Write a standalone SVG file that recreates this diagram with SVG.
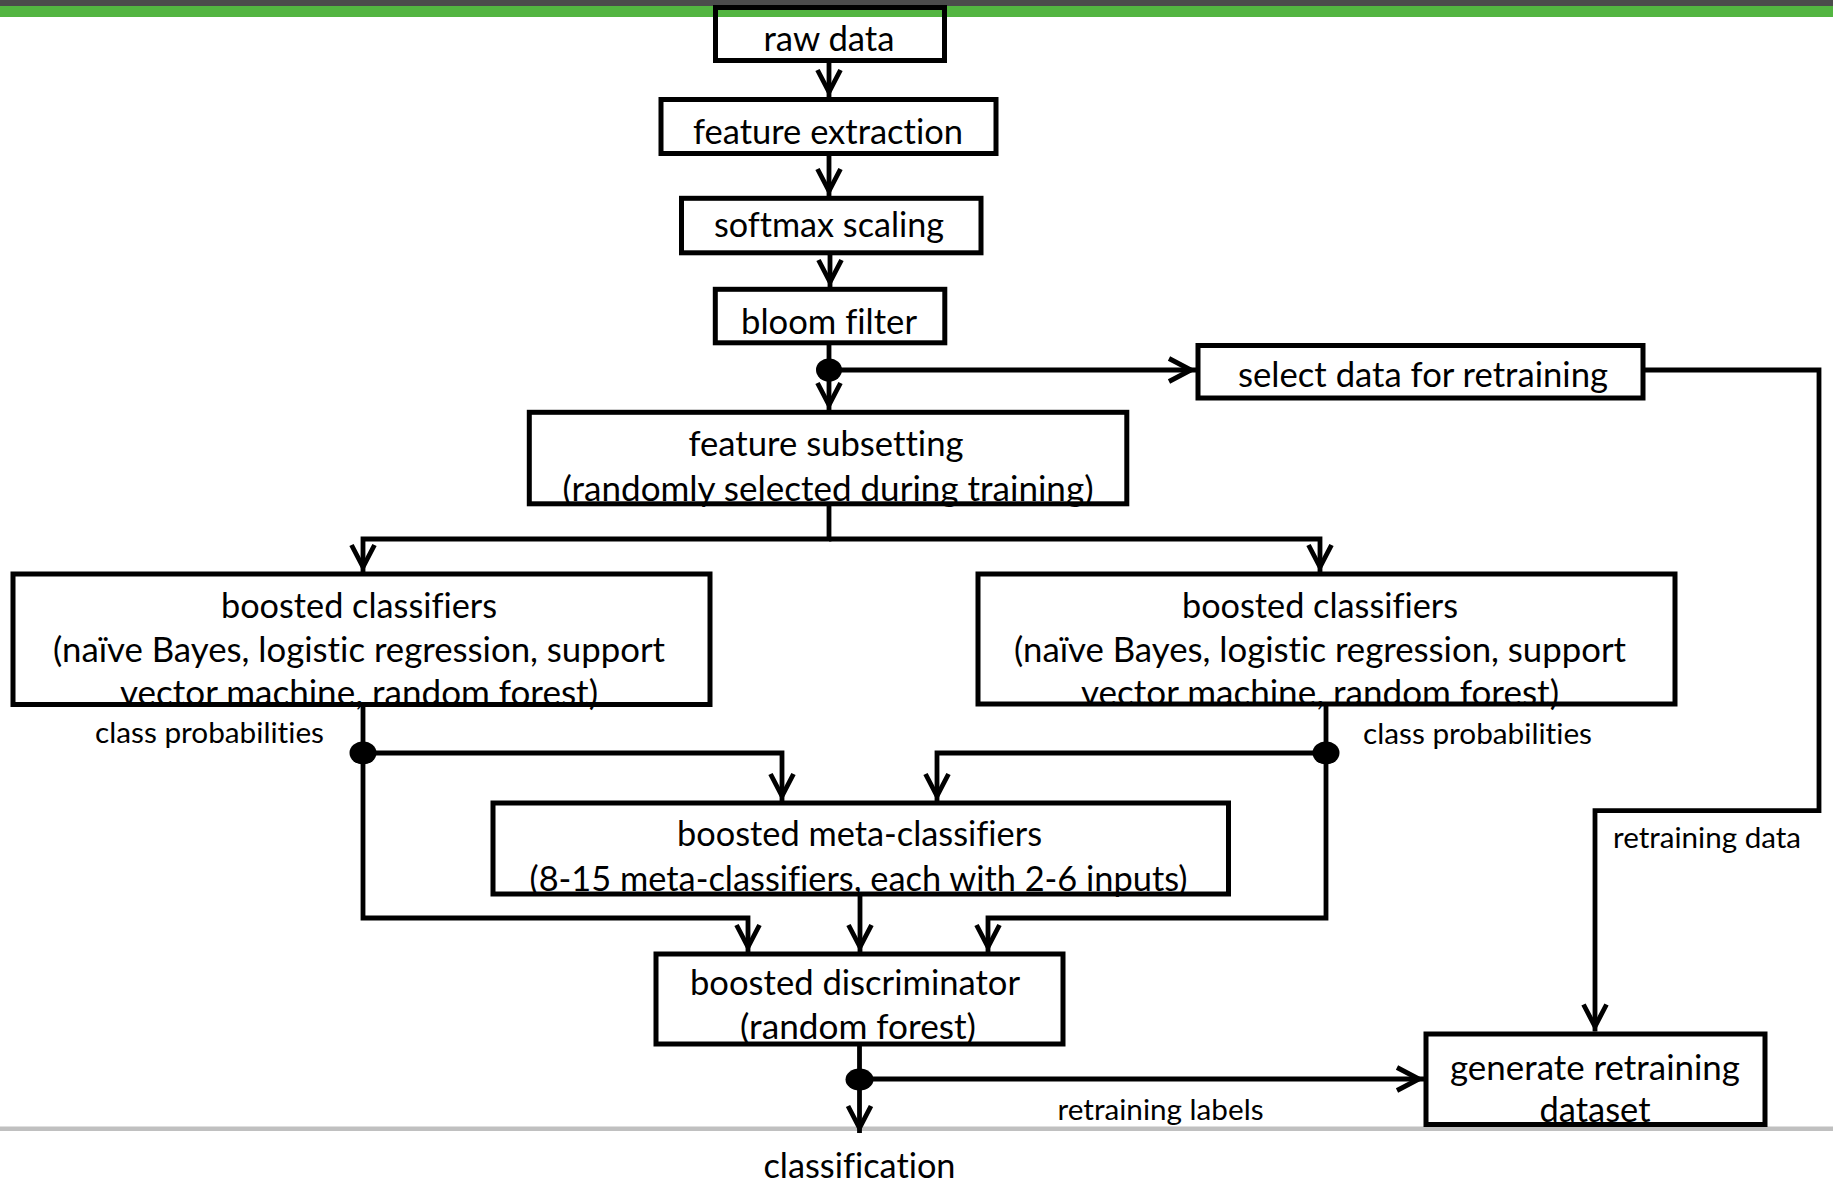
<svg xmlns="http://www.w3.org/2000/svg" width="1833" height="1182" viewBox="0 0 1833 1182">
<style>
.box{fill:none;stroke:#000;stroke-width:5}
.t{font-family:Lato,"Open Sans","Liberation Sans",sans-serif;font-size:34px;fill:#000;text-anchor:middle;font-variant-ligatures:none;font-feature-settings:"liga" 0,"clig" 0}
.s{font-size:29px}
.c{fill:none;stroke:#000;stroke-width:4.8;stroke-linejoin:miter}
.a{marker-end:url(#ah)}
</style>
<defs>
<marker id="ah" markerUnits="userSpaceOnUse" markerWidth="40" markerHeight="40" viewBox="-30 -15 40 30" refX="5" refY="0" orient="auto" overflow="visible">
<path d="M-22,-11.5 L0,0 L-22,11.5" fill="none" stroke="#000" stroke-width="4.8"/>
</marker>
</defs>
<rect x="0" y="0" width="1833" height="1182" fill="#fff"/>
<rect x="0" y="0" width="1833" height="6" fill="#4b4b4b"/>
<rect x="0" y="6" width="1833" height="11" fill="#53b541"/>
<rect x="0" y="1126.5" width="1833" height="4.5" fill="#c0c0c0"/>

<g id="connectors">
<path class="c a" d="M829,62.7 V97"/>
<path class="c a" d="M829,155.7 V196"/>
<path class="c a" d="M830,255 V287"/>
<path class="c a" d="M829,345 V410"/>
<path class="c a" d="M829,370 H1196"/>
<path class="c a" d="M1645,370 H1819 V810.7 H1595 V1031.5"/>
<path class="c a" d="M829,506 V539 H363 V572"/>
<path class="c a" d="M829,539 H1320 V572"/>
<path class="c a" d="M363,706 V918 H748 V952"/>
<path class="c a" d="M363,753 H782 V801"/>
<path class="c a" d="M1326,706 V918 H988 V952"/>
<path class="c a" d="M1326,753 H937 V801"/>
<path class="c a" d="M860,896 V952"/>
<path class="c a" d="M859.5,1046 V1133"/>
<path class="c a" d="M859.5,1079 H1424"/>
<ellipse cx="829" cy="370" rx="13" ry="11.5" fill="#000"/>
<ellipse cx="363" cy="753" rx="13.5" ry="11.5" fill="#000"/>
<ellipse cx="1326" cy="753" rx="13.5" ry="11.5" fill="#000"/>
<ellipse cx="859.5" cy="1079.5" rx="14" ry="11" fill="#000"/>
<text class="t s" x="209.5" y="743" textLength="229" lengthAdjust="spacingAndGlyphs">class probabilities</text>
<text class="t s" x="1477.5" y="744" textLength="229" lengthAdjust="spacingAndGlyphs">class probabilities</text>
<text class="t s" x="1707" y="848" textLength="188" lengthAdjust="spacingAndGlyphs">retraining data</text>
<text class="t s" x="1160.5" y="1120" textLength="206" lengthAdjust="spacingAndGlyphs">retraining labels</text>
</g>

<g id="raw-data">
<text class="t" x="829" y="51" textLength="131" lengthAdjust="spacingAndGlyphs">raw data</text>
<rect class="box" x="715.5" y="7.5" width="229" height="53"/>
</g>
<g id="feature-extraction">
<text class="t" x="828" y="144" textLength="270" lengthAdjust="spacingAndGlyphs">feature extraction</text>
<rect class="box" x="661" y="99.5" width="335" height="54"/>
</g>
<g id="softmax-scaling">
<text class="t" x="829" y="237" textLength="230" lengthAdjust="spacingAndGlyphs">softmax scaling</text>
<rect class="box" x="681.5" y="198.3" width="299.5" height="54.5"/>
</g>
<g id="bloom-filter">
<text class="t" x="829" y="334" textLength="176" lengthAdjust="spacingAndGlyphs">bloom filter</text>
<rect class="box" x="715.3" y="289.3" width="229.5" height="53.5"/>
</g>
<g id="select-data">
<text class="t" x="1423" y="387" textLength="370" lengthAdjust="spacingAndGlyphs">select data for retraining</text>
<rect class="box" x="1198" y="345.5" width="445" height="52.5"/>
</g>
<g id="feature-subsetting">
<text class="t" x="826" y="456" textLength="275" lengthAdjust="spacingAndGlyphs">feature subsetting</text>
<text class="t" x="828" y="501" textLength="531" lengthAdjust="spacingAndGlyphs">(randomly selected during training)</text>
<rect class="box" x="529.3" y="412.3" width="597.5" height="91.5"/>
</g>
<g id="boosted-classifiers-left">
<text class="t" x="359" y="618" textLength="276" lengthAdjust="spacingAndGlyphs">boosted classifiers</text>
<text class="t" x="359" y="662" textLength="612" lengthAdjust="spacingAndGlyphs">(naïve Bayes, logistic regression, support</text>
<text class="t" x="359" y="705" textLength="478" lengthAdjust="spacingAndGlyphs">vector machine, random forest)</text>
<rect class="box" x="13" y="574" width="697" height="130.5"/>
</g>
<g id="boosted-classifiers-right">
<text class="t" x="1320" y="618" textLength="276" lengthAdjust="spacingAndGlyphs">boosted classifiers</text>
<text class="t" x="1320" y="662" textLength="612" lengthAdjust="spacingAndGlyphs">(naïve Bayes, logistic regression, support</text>
<text class="t" x="1320" y="705" textLength="478" lengthAdjust="spacingAndGlyphs">vector machine, random forest)</text>
<rect class="box" x="978" y="574" width="697" height="130"/>
</g>
<g id="meta-classifiers">
<text class="t" x="859.5" y="846" textLength="365" lengthAdjust="spacingAndGlyphs">boosted meta-classifiers</text>
<text class="t" x="858.5" y="891" textLength="658" lengthAdjust="spacingAndGlyphs">(8-15 meta-classifiers, each with 2-6 inputs)</text>
<rect class="box" x="493" y="803" width="735.5" height="91"/>
</g>
<g id="discriminator">
<text class="t" x="855" y="995" textLength="330" lengthAdjust="spacingAndGlyphs">boosted discriminator</text>
<text class="t" x="858" y="1039" textLength="236" lengthAdjust="spacingAndGlyphs">(random forest)</text>
<rect class="box" x="656" y="954" width="407" height="90"/>
</g>
<g id="generate-retraining-dataset">
<text class="t" x="1595" y="1080" textLength="290" lengthAdjust="spacingAndGlyphs">generate retraining</text>
<text class="t" x="1595" y="1122" textLength="111" lengthAdjust="spacingAndGlyphs">dataset</text>
<rect class="box" x="1426" y="1034" width="339" height="90.5"/>
</g>
<g id="classification">
<text class="t" x="859.5" y="1178" textLength="192" lengthAdjust="spacingAndGlyphs">classification</text>
</g>
</svg>
